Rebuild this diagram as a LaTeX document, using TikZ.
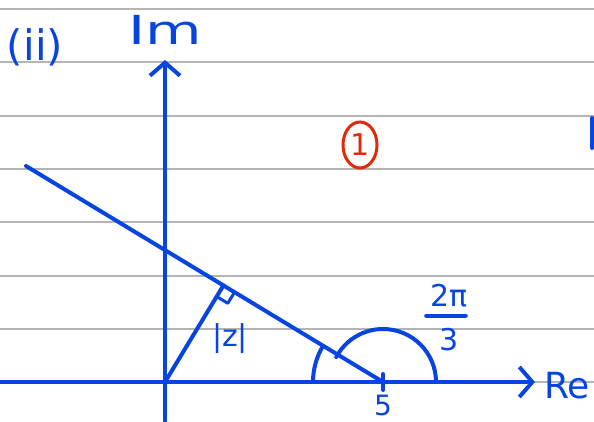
\documentclass[tikz,border=0pt]{standalone}
\usepackage{fontspec}
\setmainfont{DejaVu Sans}
\usetikzlibrary{arrows.meta,calc,shapes.geometric}
\definecolor{penblue}{HTML}{0845E0}
\definecolor{penred}{HTML}{E02A0A}
\definecolor{rulegray}{HTML}{B4B4B4}

\begin{document}
\begin{tikzpicture}[x=1pt,y=1pt,
  pen/.style={penblue,line width=4pt,line cap=round,line join=round},
  axistip/.style={-{Straight Barb[length=13pt,width=30pt]}},
  handtext/.style={penblue,inner sep=0pt}]
  \clip (0,0) rectangle (594,421);
  \fill[white] (0,0) rectangle (594,421);
  % ruled paper
  \foreach \ry in {412,359,305,252,199,145,92,39}
    \draw[rulegray,line width=1.5pt] (0,\ry) -- (594,\ry);
  % points
  \coordinate (O) at (165,39);
  \coordinate (F) at (383,39);
  \coordinate (L) at (26,255);
  \coordinate (ReEnd) at (535,39);
  \coordinate (ImEnd) at (165,361);
  \coordinate (ImStart) at (165,0);
  \coordinate (ReStart) at (0,39);
  \coordinate (P) at ($(L)!(O)!(F)$);
  \coordinate (PA) at ($(P)!13pt!(O)$);
  \coordinate (PB) at ($(P)!13pt!(F)$);
  \coordinate (PC) at ($(PA)+(PB)-(P)$);
  % axes
  \draw[pen,axistip] (ReStart) -- (ReEnd);
  \draw[pen,axistip] (ImStart) -- (ImEnd);
  % line and |z|
  \draw[pen] (L) -- (F);
  \draw[pen] (O) -- (P);
  \draw[pen,line width=3pt] (PA) -- (PC) -- (PB);
  \draw[pen] ($(F)+(0,8)$) -- ($(F)+(0,-8)$);
  % angles
  \draw[pen] ($(F)+(-70,0)$) arc[start angle=180,end angle=149,radius=70];
  \draw[pen] ($(F)+(53,0)$) arc[start angle=0,end angle=152,radius=53];
  % labels
  \node[handtext,font=\fontsize{42}{42}\selectfont] (part) at (35,374) {(ii)};
  \node[handtext,font=\fontsize{40}{40}\selectfont,xscale=1.45,transform shape] (imlabel) at (165,391) {Im};
  \node[handtext,font=\fontsize{36}{36}\selectfont] (relabel) at (567,35) {Re};
  \node[handtext,font=\fontsize{30}{30}\selectfont] (modz) at (230,82) {|z|};
  \node[handtext,font=\fontsize{28}{28}\selectfont,anchor=north] (five) at (383,26) {5};
  \node[handtext,font=\fontsize{30}{30}\selectfont] (twopi) at (449,125) {2π};
  \node[handtext,font=\fontsize{30}{30}\selectfont] (three) at (449,81) {3};
  \draw[pen] ($(twopi.south west)+(-4,-8)$) -- ($(twopi.south east)+(-2,-8)$);
  \node[ellipse,draw=penred,line width=3pt,text=penred,minimum width=34pt,minimum height=46pt,inner sep=0pt,font=\fontsize{30}{30}\selectfont] (mark) at (360,276) {1};
  \draw[pen] (592,303) -- (592,273);
\end{tikzpicture}
\end{document}
